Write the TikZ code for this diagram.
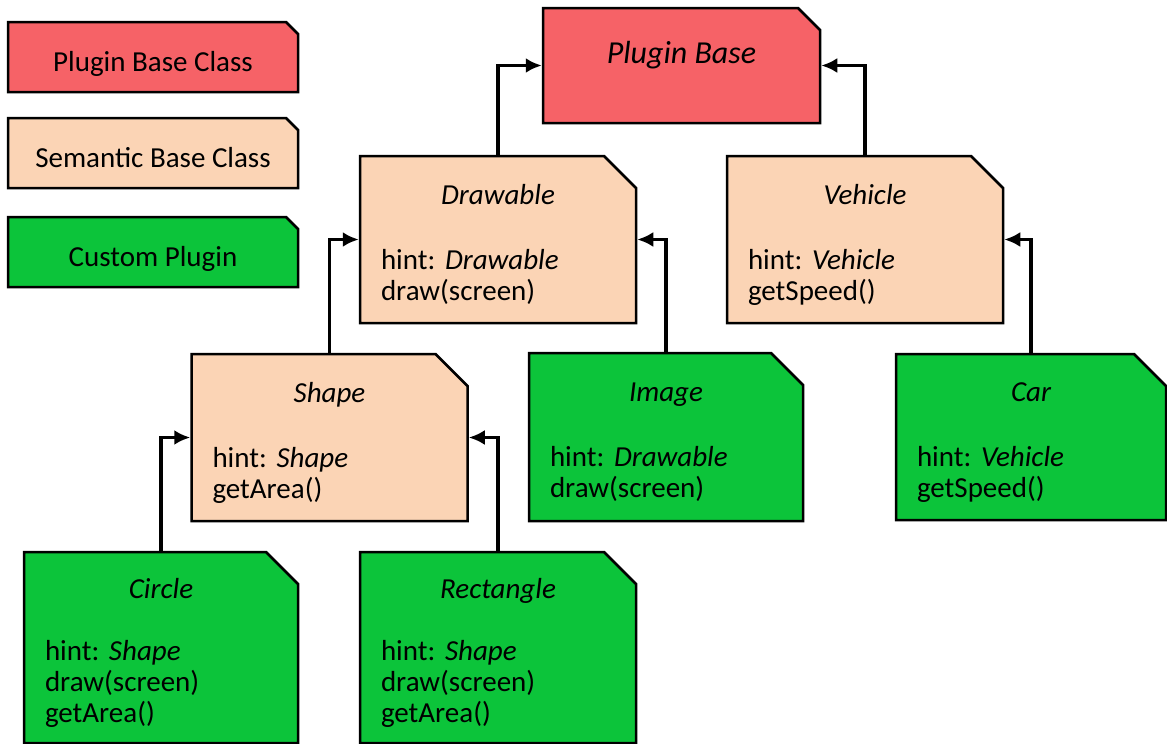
\documentclass[tikz,border=0pt]{standalone}
\usepackage{fontspec}
\setmainfont{Carlito}
\usetikzlibrary{arrows.meta,shapes.misc}
\definecolor{baseRed}{RGB}{246,98,103}
\definecolor{semPeach}{RGB}{251,212,181}
\definecolor{plugGreen}{RGB}{12,196,58}

\begin{document}
\begin{tikzpicture}[
  x=1pt,y=-1pt,
  >={Latex[length=16pt,width=15pt]},
  note/.style={draw,line width=2.5pt,chamfered rectangle,chamfered rectangle corners=north east,inner xsep=0pt,inner ysep=0pt,font=\fontsize{29}{31}\selectfont\frenchspacing},
  legend/.style={note,chamfered rectangle sep=6pt,minimum width=290pt,minimum height=70pt,text height=29pt,text depth=0pt},
  classbox/.style={note,chamfered rectangle sep=16pt,minimum width=276pt,text width=234pt,align=left},
  conn/.style={->,line width=3.3pt}
]
\useasboundingbox (0,0) rectangle (1167,744);
% legend
\node[legend,fill=baseRed] (leg1) at (153,57) {Plugin Base Class};
\node[legend,fill=semPeach] (leg2) at (153,153) {Semantic Base Class};
\node[legend,fill=plugGreen] (leg3) at (153,252) {Custom Plugin};
% classes
\node[note,fill=baseRed,chamfered rectangle sep=11pt,minimum width=277pt,minimum height=115pt,font=\fontsize{32}{34}\selectfont\itshape,text height=24pt,text depth=29pt] (pluginbase) at (681.5,65.5) {Plugin Base};
\node[classbox,fill=semPeach,minimum height=167pt] (drawable) at (498,239.5) {\rule{0pt}{30pt}\makebox[\linewidth]{\itshape Drawable}\\[34pt]hint: \textit{Drawable}\\draw(screen)};
\node[classbox,fill=semPeach,minimum height=167pt] (vehicle) at (865,239.5) {\rule{0pt}{30pt}\makebox[\linewidth]{\itshape Vehicle}\\[34pt]hint: \textit{Vehicle}\\getSpeed()};
\node[classbox,fill=semPeach,minimum height=167pt] (shape) at (329.5,437.5) {\rule{0pt}{30pt}\makebox[\linewidth]{\itshape Shape}\\[34pt]hint: \textit{Shape}\\getArea()};
\node[classbox,fill=plugGreen,minimum height=168pt,minimum width=274pt,text width=232pt] (image) at (666,437) {\rule{0pt}{30pt}\makebox[\linewidth]{\itshape Image}\\[34pt]hint: \textit{Drawable}\\draw(screen)};
\node[classbox,fill=plugGreen,minimum height=166pt,minimum width=270pt,text width=228pt] (car) at (1031,437) {\rule{0pt}{30pt}\makebox[\linewidth]{\itshape Car}\\[34pt]hint: \textit{Vehicle}\\getSpeed()};
\node[classbox,fill=plugGreen,minimum height=189pt,minimum width=274pt,text width=232pt] (circle) at (161,647.5) {\rule{0pt}{30pt}\makebox[\linewidth]{\itshape Circle}\\[31pt]hint: \textit{Shape}\\draw(screen)\\getArea()};
\node[classbox,fill=plugGreen,minimum height=189pt] (rectangle) at (498,647.5) {\rule{0pt}{30pt}\makebox[\linewidth]{\itshape Rectangle}\\[31pt]hint: \textit{Shape}\\draw(screen)\\getArea()};
% inheritance
\draw[conn] (drawable.north) |- (pluginbase.west);
\draw[conn] (vehicle.north) |- (pluginbase.east);
\draw[conn] (shape.north) |- (drawable.west);
\draw[conn] (image.north) |- (drawable.east);
\draw[conn] (car.north) |- (vehicle.east);
\draw[conn] (circle.north) |- (shape.west);
\draw[conn] (rectangle.north) |- (shape.east);
\end{tikzpicture}
\end{document}
